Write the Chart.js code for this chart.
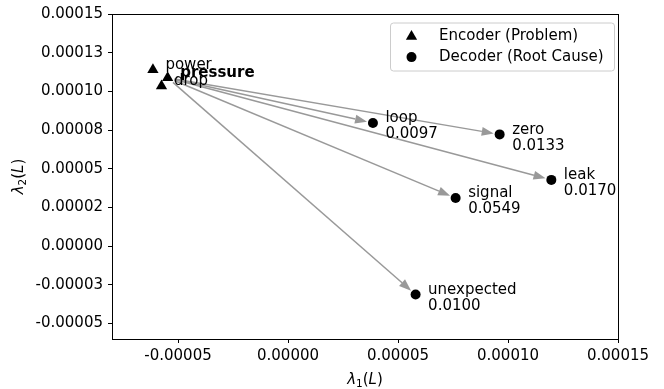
<!DOCTYPE html>
<html>
<head>
<meta charset="utf-8">
<script src="https://cdn.jsdelivr.net/npm/chart.js@4.4.1/dist/chart.umd.min.js"></script>
<style>
  body { margin: 0; background: #fff; }
  canvas { display: block; }
</style>
</head>
<body>
<canvas id="chart" width="664" height="389"></canvas>
<script>
// encoder (problem) words
const encoderNames = ["power", "pressure", "drop"];
const encoderX = [-6.14e-5, -5.47e-5, -5.75e-5];
const encoderY = [1.139e-4, 1.088e-4, 1.035e-4];
const sourceIndex = 1; // arrows start at "pressure"

// decoder (root cause) words
const decoderNames = ["loop", "zero", "leak", "signal", "unexpected"];
const decoderX = [3.86e-5, 9.62e-5, 1.197e-4, 7.62e-5, 5.80e-5];
const decoderY = [7.96e-5, 7.22e-5, 4.28e-5, 3.11e-5, -3.13e-5];
const decoderScores = ["0.0097", "0.0133", "0.0170", "0.0549", "0.0100"];

// ticks
const xTicks = [-0.00005, 0, 0.00005, 0.0001, 0.00015];
const xTickLabels = ["-0.00005", "0.00000", "0.00005", "0.00010", "0.00015"];
const yTicks = [-0.00005, -0.000025, 0, 0.000025, 0.00005, 0.000075, 0.0001, 0.000125, 0.00015];
const yTickLabels = ["-0.00005", "-0.00003", "0.00000", "0.00002", "0.00005", "0.00008", "0.00010", "0.00013", "0.00015"];

const FONT = "DejaVu Sans";
const FS = 15;
const ARROW_COLOR = "#999999";

const encoderPoints = encoderX.map((x, i) => ({ x: x, y: encoderY[i] }));
const decoderPoints = decoderX.map((x, i) => ({ x: x, y: decoderY[i] }));

// draws arrows, word labels, frame, legend and axis titles
const annotatePlugin = {
    id: "annotate",
    afterDatasetsDraw(chart) {
        const ctx = chart.ctx;
        const xs = chart.scales.x, ys = chart.scales.y;
        const area = chart.chartArea;

        ctx.save();
        ctx.beginPath();
        ctx.rect(area.left, area.top, area.right - area.left, area.bottom - area.top);
        ctx.clip();

        // arrows from source encoder to each decoder
        const sx = xs.getPixelForValue(encoderX[sourceIndex]);
        const sy = ys.getPixelForValue(encoderY[sourceIndex]);
        decoderX.forEach((dxv, i) => {
            const ex = xs.getPixelForValue(dxv);
            const ey = ys.getPixelForValue(decoderY[i]);
            const ang = Math.atan2(ey - sy, ex - sx);
            const x0 = sx + Math.cos(ang) * 7, y0 = sy + Math.sin(ang) * 7;
            const x1 = ex - Math.cos(ang) * 6, y1 = ey - Math.sin(ang) * 6;
            const headLen = 12, headW = 4.5;
            const bx = x1 - Math.cos(ang) * headLen, by = y1 - Math.sin(ang) * headLen;
            ctx.strokeStyle = ARROW_COLOR;
            ctx.fillStyle = ARROW_COLOR;
            ctx.lineWidth = 1.5;
            ctx.beginPath();
            ctx.moveTo(x0, y0);
            ctx.lineTo(bx, by);
            ctx.stroke();
            ctx.beginPath();
            ctx.moveTo(x1, y1);
            ctx.lineTo(bx - Math.sin(ang) * headW, by + Math.cos(ang) * headW);
            ctx.lineTo(bx + Math.sin(ang) * headW, by - Math.cos(ang) * headW);
            ctx.closePath();
            ctx.fill();
        });

        // word labels
        ctx.fillStyle = "#000";
        ctx.textAlign = "left";
        ctx.textBaseline = "middle";
        encoderNames.forEach((name, i) => {
            const px = xs.getPixelForValue(encoderX[i]);
            const py = ys.getPixelForValue(encoderY[i]);
            ctx.font = (i === sourceIndex ? "bold " : "") + FS + "px " + FONT;
            ctx.fillText(name, px + 12.5, py - 4.5);
        });
        ctx.font = FS + "px " + FONT;
        decoderNames.forEach((name, i) => {
            const px = xs.getPixelForValue(decoderX[i]);
            const py = ys.getPixelForValue(decoderY[i]);
            ctx.fillText(name, px + 12.5, py - 4.5);
            ctx.fillText(decoderScores[i], px + 12.5, py + 11.5);
        });
        ctx.restore();
    },
    afterDraw(chart) {
        const ctx = chart.ctx;
        const area = chart.chartArea;
        ctx.save();

        // full frame
        ctx.strokeStyle = "#000";
        ctx.lineWidth = 1;
        ctx.strokeRect(Math.round(area.left) + 0.5, Math.round(area.top) + 0.5,
            Math.round(area.right - area.left), Math.round(area.bottom - area.top));

        // legend
        const lx = area.right - 228, ly = area.top + 8.5, lw = 224, lh = 48;
        ctx.fillStyle = "rgba(255,255,255,0.8)";
        ctx.strokeStyle = "#cccccc";
        ctx.beginPath();
        ctx.roundRect(lx + 0.5, ly + 0.5, lw, lh, 3);
        ctx.fill();
        ctx.stroke();
        ctx.font = FS + "px " + FONT;
        ctx.textBaseline = "middle";
        ctx.textAlign = "left";
        chart.data.datasets.forEach((ds, i) => {
            const my = ly + 14 + i * 20.6;
            ctx.fillStyle = ds.backgroundColor;
            ctx.strokeStyle = ds.borderColor;
            Chart.helpers.drawPoint(ctx, {
                pointStyle: ds.pointStyle, radius: ds.pointRadius, rotation: 0, borderWidth: 0
            }, lx + 21.5, my);
            ctx.fillStyle = "#000";
            ctx.fillText(ds.label, lx + 49, my);
        });

        // axis titles with math-style italics
        function drawMath(parts, cx, cy) {
            let total = 0;
            parts.forEach(p => { ctx.font = p.f; total += ctx.measureText(p.t).width; });
            let x = cx - total / 2;
            parts.forEach(p => {
                ctx.font = p.f;
                ctx.fillText(p.t, x, cy + (p.dy || 0));
                x += ctx.measureText(p.t).width;
            });
        }
        function titleParts(sub) {
            return [
                { t: "\u03bb", f: "italic " + FS + "px " + FONT },
                { t: sub, f: "10.5px " + FONT, dy: 3 },
                { t: "(", f: FS + "px " + FONT },
                { t: "L", f: "italic " + FS + "px " + FONT },
                { t: ")", f: FS + "px " + FONT }
            ];
        }
        ctx.fillStyle = "#000";
        ctx.textAlign = "left";
        ctx.textBaseline = "alphabetic";
        drawMath(titleParts("1"), (area.left + area.right) / 2, 384);
        ctx.translate(23, (area.top + area.bottom) / 2);
        ctx.rotate(-Math.PI / 2);
        drawMath(titleParts("2"), 0, 0);
        ctx.restore();
    }
};

const tickFont = { family: FONT, size: FS };

new Chart(document.getElementById("chart"), {
    type: "scatter",
    data: {
        datasets: [
            {
                label: "Encoder (Problem)",
                data: encoderPoints,
                pointStyle: "triangle",
                pointRadius: 6.5,
                backgroundColor: "#000",
                borderColor: "#000",
                borderWidth: 0
            },
            {
                label: "Decoder (Root Cause)",
                data: decoderPoints,
                pointStyle: "circle",
                pointRadius: 5,
                backgroundColor: "#000",
                borderColor: "#000",
                borderWidth: 0
            }
        ]
    },
    options: {
        responsive: false,
        animation: false,
        devicePixelRatio: 1,
        layout: { padding: { top: 10, right: 46, left: 0, bottom: 0 } },
        plugins: {
            legend: { display: false },
            tooltip: { enabled: false }
        },
        scales: {
            x: {
                type: "linear",
                min: -0.00008,
                max: 0.00015,
                afterBuildTicks: s => { s.ticks = xTicks.map(v => ({ value: v })); },
                afterFit: s => { s.height = 50; },
                ticks: {
                    callback: (v, i) => xTickLabels[i],
                    font: tickFont,
                    color: "#000",
                    padding: 4,
                    maxRotation: 0,
                    autoSkip: false
                },
                grid: { drawOnChartArea: false, drawTicks: true, tickLength: 4, tickColor: "#000" },
                border: { color: "#000", width: 1 }
            },
            y: {
                type: "linear",
                min: -0.00006,
                max: 0.00015,
                afterBuildTicks: s => { s.ticks = yTicks.map(v => ({ value: v })); },
                afterFit: s => { s.width = 112; },
                ticks: {
                    callback: (v, i) => yTickLabels[i],
                    font: tickFont,
                    color: "#000",
                    padding: 5,
                    autoSkip: false
                },
                grid: { drawOnChartArea: false, drawTicks: true, tickLength: 4, tickColor: "#000" },
                border: { color: "#000", width: 1 }
            }
        }
    },
    plugins: [annotatePlugin]
});
</script>
</body>
</html>
